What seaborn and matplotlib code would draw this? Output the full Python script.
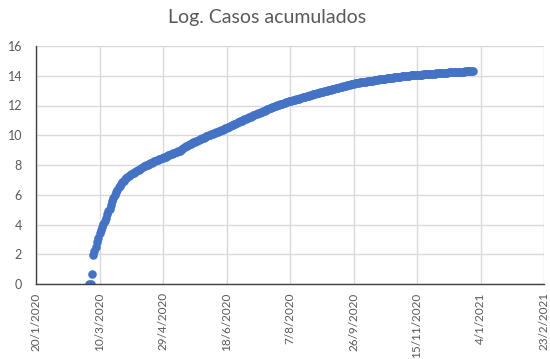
import matplotlib
matplotlib.use("Agg")
import matplotlib.pyplot as plt
import numpy as np
import pandas as pd
import seaborn as sns

# Natural log of accumulated cases, one value per day starting 2 March 2020
start_date = "2020-03-02"
log_cases = [
    0.0, 0.0, 0.69, 1.95, 2.2, 2.5, 2.8, 3.1, 3.4, 3.65,
    3.85, 4.05, 4.25, 4.45, 4.7, 4.9, 5.05, 5.3, 5.55, 5.8,
    6.0, 6.2, 6.35, 6.5, 6.6, 6.72, 6.85, 6.95, 7.05, 7.12,
    7.2, 7.27, 7.33, 7.39, 7.44, 7.49, 7.54, 7.6, 7.65, 7.69,
    7.73, 7.8, 7.85, 7.9, 7.94, 7.98, 8.03, 8.07, 8.11, 8.15,
    8.2, 8.24, 8.28, 8.31, 8.35, 8.39, 8.43, 8.46, 8.5, 8.54,
    8.57, 8.61, 8.64, 8.68, 8.72, 8.75, 8.79, 8.82, 8.85, 8.88,
    8.92, 8.96, 9.02, 9.08, 9.14, 9.2, 9.26, 9.31, 9.36, 9.4,
    9.44, 9.48, 9.52, 9.56, 9.6, 9.64, 9.68, 9.72, 9.76, 9.8,
    9.84, 9.88, 9.92, 9.95, 9.99, 10.02, 10.06, 10.09, 10.13, 10.16,
    10.2, 10.23, 10.27, 10.3, 10.34, 10.38, 10.42, 10.46, 10.5, 10.54,
    10.58, 10.62, 10.66, 10.7, 10.74, 10.78, 10.82, 10.86, 10.9, 10.94,
    10.98, 11.02, 11.06, 11.1, 11.14, 11.18, 11.22, 11.26, 11.29, 11.33,
    11.37, 11.41, 11.44, 11.48, 11.52, 11.55, 11.59, 11.63, 11.66, 11.7,
    11.74, 11.77, 11.81, 11.84, 11.88, 11.91, 11.95, 11.98, 12.02, 12.05,
    12.08, 12.1, 12.13, 12.16, 12.19, 12.22, 12.24, 12.27, 12.3, 12.32,
    12.35, 12.37, 12.4, 12.42, 12.45, 12.47, 12.5, 12.52, 12.55, 12.57,
    12.6, 12.62, 12.65, 12.67, 12.7, 12.72, 12.74, 12.77, 12.79, 12.81,
    12.84, 12.86, 12.88, 12.9, 12.93, 12.95, 12.97, 13.0, 13.02, 13.04,
    13.07, 13.09, 13.11, 13.14, 13.16, 13.18, 13.2, 13.23, 13.25, 13.27,
    13.3, 13.32, 13.34, 13.36, 13.39, 13.41, 13.43, 13.45, 13.47, 13.49,
    13.5, 13.52, 13.53, 13.55, 13.56, 13.57, 13.59, 13.6, 13.61, 13.63,
    13.64, 13.66, 13.67, 13.68, 13.7, 13.71, 13.72, 13.74, 13.75, 13.76,
    13.78, 13.79, 13.8, 13.81, 13.83, 13.84, 13.85, 13.86, 13.87, 13.88,
    13.89, 13.9, 13.91, 13.92, 13.93, 13.94, 13.95, 13.96, 13.97, 13.98,
    13.99, 14.0, 14.01, 14.02, 14.02, 14.03, 14.04, 14.05, 14.06, 14.06,
    14.07, 14.08, 14.08, 14.09, 14.1, 14.1, 14.11, 14.12, 14.12, 14.13,
    14.14, 14.14, 14.15, 14.16, 14.16, 14.17, 14.18, 14.18, 14.19, 14.2,
    14.2, 14.21, 14.21, 14.22, 14.23, 14.23, 14.24, 14.24, 14.25, 14.25,
    14.26, 14.26, 14.27, 14.27, 14.28, 14.28, 14.29, 14.29, 14.3, 14.3,
    14.31, 14.31, 14.32,
]

x_tick_dates = ["2020-01-20", "2020-03-10", "2020-04-29", "2020-06-18",
                "2020-08-07", "2020-09-26", "2020-11-15", "2021-01-04",
                "2021-02-23"]
y_ticks = [0, 2, 4, 6, 8, 10, 12, 14, 16]
title = "Log. Casos acumulados"

df = pd.DataFrame({
    "fecha": pd.date_range(start_date, periods=len(log_cases), freq="D"),
    "log_casos": log_cases,
})

sns.set_style("white")
plt.rcParams["font.family"] = ["Lato", "DejaVu Sans"]

text_grey = "#595959"
grid_grey = "#d9d9d9"
axis_grey = "#404040"
blue = "#4472c4"

fig = plt.figure(figsize=(5.5, 3.59), dpi=100)
ax = fig.add_axes([36 / 550, 1 - 284 / 359, (544 - 36) / 550, (284 - 46) / 359])

sns.scatterplot(data=df, x="fecha", y="log_casos", ax=ax, color=blue,
                s=38, linewidth=0, zorder=3, legend=False)

tick_dates = pd.to_datetime(x_tick_dates)
ax.set_xlim(tick_dates[0], tick_dates[-1])
ax.set_ylim(y_ticks[0], y_ticks[-1])
ax.set_xticks(tick_dates)
ax.set_xticklabels([f"{d.day}/{d.month}/{d.year}" for d in tick_dates],
                   rotation=90, ha="center", va="top")
ax.set_yticks(y_ticks)
ax.set_yticklabels([str(v) for v in y_ticks])

ax.grid(True, color=grid_grey, linewidth=1.0, zorder=0)
ax.set_axisbelow(True)
for side in ("top", "right"):
    ax.spines[side].set_visible(False)
for side in ("left", "bottom"):
    ax.spines[side].set_color(axis_grey)
    ax.spines[side].set_linewidth(1.0)
    ax.spines[side].set_zorder(4)

ax.tick_params(axis="both", length=0, labelcolor=text_grey)
ax.tick_params(axis="x", pad=6, labelsize=8.5)
ax.tick_params(axis="y", pad=10, labelsize=9)
ax.set_xlabel("")
ax.set_ylabel("")

fig.text(0.485, 1 - 17 / 359, title, ha="center", va="center",
         fontsize=14, color=text_grey)

fig.savefig("out.png", dpi=100)
